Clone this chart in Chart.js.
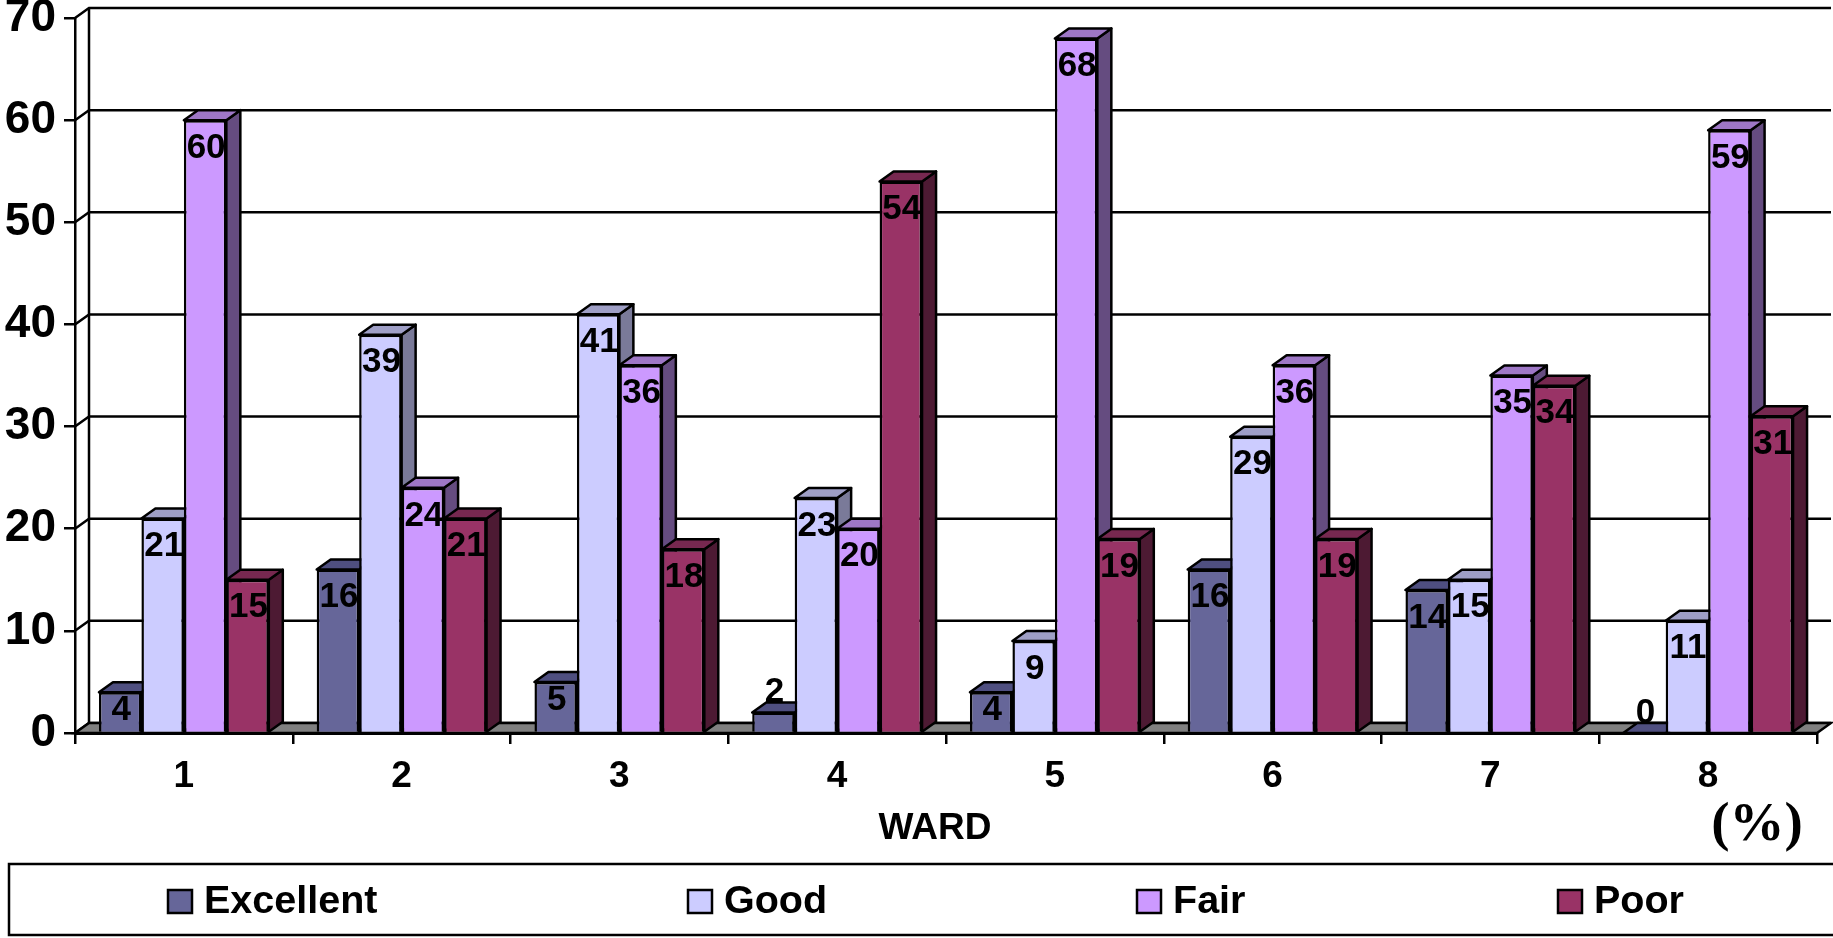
<!DOCTYPE html>
<html>
<head>
<meta charset="utf-8">
<title>Ward ratings</title>
<script src="https://cdn.jsdelivr.net/npm/chart.js@4"></script>
<style>
    html, body { margin: 0; padding: 0; background: #fff; overflow: hidden; }
    canvas { display: block; }
</style>
</head>
<body>
<canvas id="wardChart" width="1833" height="938"></canvas>
<script>
"use strict";

const wards = ["1", "2", "3", "4", "5", "6", "7", "8"];
const excellent = [4, 16, 5, 2, 4, 16, 14, 0];
const good = [21, 39, 41, 23, 9, 29, 15, 11];
const fair = [60, 24, 36, 20, 68, 36, 35, 59];
const poor = [15, 21, 18, 54, 19, 19, 34, 31];

const seriesNames = ["Excellent", "Good", "Fair", "Poor"];
const frontColors = ["#666699", "#CCCCFF", "#CC99FF", "#993366"];
const topColors = ["#4F4F80", "#9F9FC6", "#9E77C6", "#772850"];
const sideColors = ["#3D3D5C", "#7A7A99", "#654C80", "#4D1A33"];

// Legend marker x positions
const legendX = [168, 688, 1137, 1558];

const DEPTH_X = 14;
const DEPTH_Y = 10;

function poly(ctx, points, fill){
    ctx.beginPath();
    ctx.moveTo(points[0][0], points[0][1]);
    for(let i = 1; i < points.length; i++){
        ctx.lineTo(points[i][0], points[i][1]);
    }
    ctx.closePath();
    if(fill){
        ctx.fillStyle = fill;
        ctx.fill();
    }
    ctx.stroke();
}

// Back wall, left wall and floor
const wallsPlugin = {
    id: "walls",
    beforeDatasetsDraw(chart){
        const ctx = chart.ctx;
        const area = chart.chartArea;
        const y = chart.scales.y;
        const backRight = area.right + DEPTH_X;
        ctx.save();
        ctx.strokeStyle = "#000";
        ctx.lineWidth = 2.5;
        y.ticks.forEach(t => {
            const py = y.getPixelForValue(t.value);
            ctx.beginPath();
            ctx.moveTo(area.left, py);
            ctx.lineTo(area.left + DEPTH_X, py - DEPTH_Y);
            ctx.lineTo(backRight, py - DEPTH_Y);
            ctx.stroke();
        });
        ctx.beginPath();
        ctx.moveTo(area.left + DEPTH_X, area.top - DEPTH_Y);
        ctx.lineTo(area.left + DEPTH_X, area.bottom - DEPTH_Y);
        ctx.stroke();
        poly(ctx, [
            [area.left, area.bottom],
            [area.left + DEPTH_X, area.bottom - DEPTH_Y],
            [backRight, area.bottom - DEPTH_Y],
            [area.right, area.bottom]
        ], "#808080");
        ctx.restore();
    }
};

// Side and top faces of every bar, the library then paints the fronts over them
const barFacesPlugin = {
    id: "barFaces",
    beforeDatasetsDraw(chart){
        const ctx = chart.ctx;
        ctx.save();
        ctx.strokeStyle = "#000";
        ctx.lineWidth = 2.5;
        ctx.lineJoin = "round";
        chart.data.datasets.forEach((ds, d) => {
            chart.getDatasetMeta(d).data.forEach(bar => {
                const left = bar.x - bar.width / 2;
                const right = bar.x + bar.width / 2;
                const top = bar.y;
                const bottom = bar.base;
                poly(ctx, [
                    [right, top], [right + DEPTH_X, top - DEPTH_Y],
                    [right + DEPTH_X, bottom - DEPTH_Y], [right, bottom]
                ], sideColors[d]);
                poly(ctx, [
                    [left, top], [left + DEPTH_X, top - DEPTH_Y],
                    [right + DEPTH_X, top - DEPTH_Y], [right, top]
                ], topColors[d]);
            });
        });
        ctx.restore();
    }
};

// Value labels, axis name, legend box and the (%) note
const labelsPlugin = {
    id: "labels",
    afterDraw(chart){
        const ctx = chart.ctx;
        ctx.save();
        ctx.fillStyle = "#000";
        ctx.textAlign = "center";
        ctx.textBaseline = "middle";
        ctx.font = "bold 35px 'Liberation Sans'";
        chart.data.datasets.forEach((ds, d) => {
            chart.getDatasetMeta(d).data.forEach((bar, i) => {
                const v = ds.data[i];
                let dy = 28;
                if(v <= 2){
                    dy = -20;
                }else if(v <= 5){
                    dy = 18;
                }
                ctx.fillText(String(v), bar.x + 1, bar.y + dy);
            });
        });

        ctx.font = "bold 37px 'Liberation Sans'";
        ctx.fillText("WARD", 935, 829);

        ctx.font = "bold 55px 'Liberation Serif'";
        ctx.fillText("(%)", 1757, 826);

        ctx.strokeStyle = "#000";
        ctx.lineWidth = 2.5;
        ctx.fillStyle = "#fff";
        ctx.fillRect(9, 864, 1824, 71);
        ctx.strokeRect(9, 864, 1830, 71);

        ctx.textAlign = "left";
        ctx.font = "bold 39.5px 'Liberation Sans'";
        seriesNames.forEach((name, d) => {
            ctx.fillStyle = frontColors[d];
            ctx.fillRect(legendX[d], 890, 24, 23);
            ctx.strokeRect(legendX[d], 890, 24, 23);
            ctx.fillStyle = "#000";
            ctx.fillText(name, legendX[d] + 36, 902);
        });
        ctx.restore();
    }
};

const seriesValues = [excellent, good, fair, poor];

new Chart(document.getElementById("wardChart"), {
    type: "bar",
    data: {
        labels: wards,
        datasets: seriesNames.map((name, d) => ({
            label: name,
            data: seriesValues[d],
            backgroundColor: frontColors[d],
            borderColor: "#000",
            borderWidth: 2.5,
            categoryPercentage: 0.78,
            barPercentage: 1
        }))
    },
    options: {
        responsive: false,
        animation: false,
        layout: { padding: { top: 18, right: 16, left: 0, bottom: 0 } },
        plugins: {
            legend: { display: false },
            tooltip: { enabled: false }
        },
        scales: {
            x: {
                grid: { drawOnChartArea: false, color: "#000", lineWidth: 2.5, tickLength: 11 },
                border: { color: "#000", width: 3 },
                ticks: {
                    color: "#000",
                    padding: 11,
                    maxRotation: 0,
                    font: { family: "'Liberation Sans'", size: 37, weight: "bold" }
                },
                afterFit(scale){
                    scale.height = 205;
                    scale.paddingLeft = 0;
                    scale.paddingRight = 0;
                }
            },
            y: {
                min: 0,
                max: 70,
                grid: { drawOnChartArea: false, color: "#000", lineWidth: 2.5, tickLength: 11 },
                border: { color: "#000", width: 2.5 },
                ticks: {
                    stepSize: 10,
                    color: "#000",
                    padding: 8,
                    font: { family: "'Liberation Sans'", size: 46, weight: "bold" }
                },
                afterFit(scale){
                    scale.width = 75;
                    scale.paddingTop = 0;
                    scale.paddingBottom = 0;
                }
            }
        }
    },
    plugins: [wallsPlugin, barFacesPlugin, labelsPlugin]
});
</script>
</body>
</html>
